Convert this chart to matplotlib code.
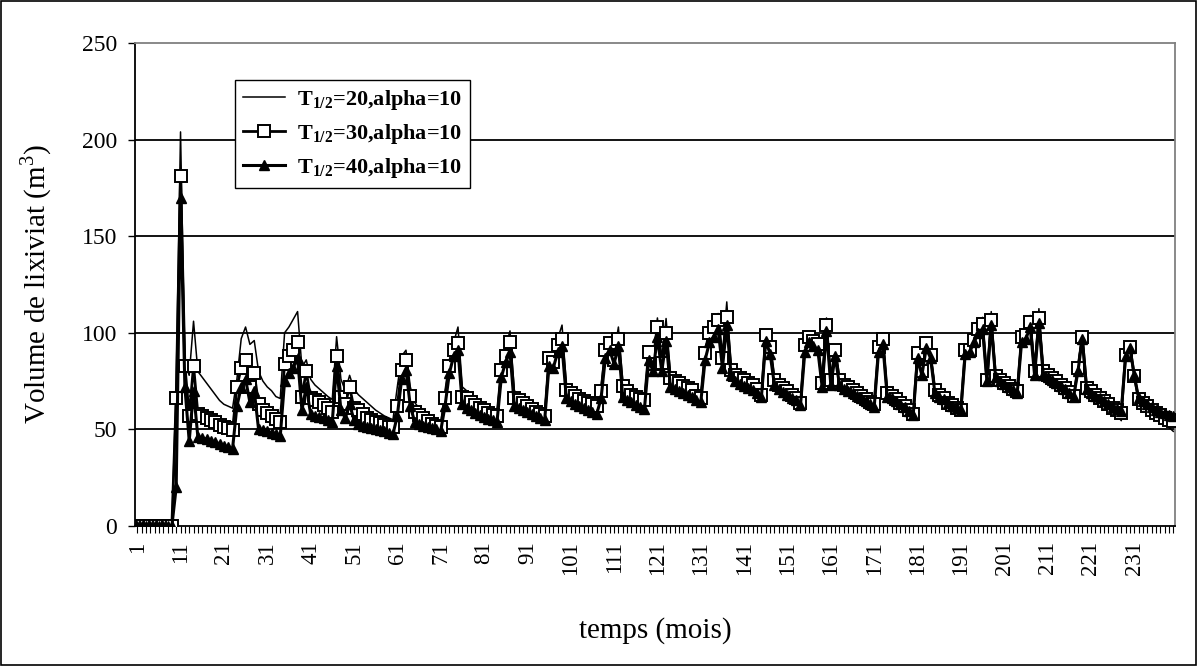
import numpy as np
import matplotlib
matplotlib.use("Agg")
import matplotlib.pyplot as plt
from matplotlib.patches import Rectangle

plt.rcParams['font.family'] = 'Liberation Serif'
plt.rcParams['mathtext.fontset'] = 'custom'
plt.rcParams['mathtext.rm'] = 'Liberation Serif'
plt.rcParams['mathtext.bf'] = 'Liberation Serif:bold'

# monthly leachate volume (m3)
t20 = [0, 0, 0, 0, 0, 0, 0, 0, 0, 74,
       204, 84, 78, 106, 80, 77, 74, 71, 68, 65,
       63, 62, 61, 76, 97, 103, 94, 96, 80, 75,
       72, 70, 67, 66, 100, 103, 107, 111, 82, 86,
       76, 73, 71, 69, 67, 65.5, 98, 76, 70, 78,
       71, 68, 66, 64, 62, 60, 58.5, 57, 56, 55,
       72, 88, 91, 72, 64, 61, 59, 57, 55.5, 54,
       53, 70, 86, 95, 103, 72, 70, 68, 66, 64,
       62.5, 61, 59.5, 58.5, 84, 93, 101, 70, 68, 66,
       64, 62.5, 61, 59.5, 58.5, 90, 88, 97, 104, 73,
       71, 69, 67.5, 66, 64.5, 63.5, 62.5, 72, 94, 97,
       89, 103, 75, 72, 70, 68.5, 67, 66, 93, 87,
       107.7, 87, 107.4, 79, 77, 75.5, 74, 72.5, 71, 68.5,
       67, 92, 102, 106, 110, 89, 116, 83, 80, 78,
       76.5, 75, 73.5, 71.5, 69, 100, 95, 77, 74.5, 72.5,
       70.5, 68.5, 66.5, 64, 96, 100, 98, 96, 76, 107.7,
       77, 94, 77, 74.5, 73, 71.5, 69.5, 67.5, 65.5, 63.5,
       62, 94, 98.8, 70, 68, 66, 64, 61.5, 59.5, 57,
       91, 82, 97, 90, 72, 69, 67, 64.5, 62.5, 61,
       59.5, 93, 93, 99, 105, 108, 77, 111, 79, 77,
       75, 73, 71, 69.5, 101, 102, 109, 82, 112.5, 82,
       80, 78, 76, 74, 72, 69.5, 67, 83, 100, 72,
       70, 68, 66, 64, 62, 60, 57.5, 54.5, 90, 94,
       78, 65, 63, 61, 59, 57, 55, 53, 51, 49]

t30 = [0, 0, 0, 0, 0, 0, 0, 0, 0, 66,
       181, 83, 57, 83, 58, 57, 56, 55, 54, 52.5,
       51.5, 50.5, 49.5, 72, 82, 86, 72, 79, 63, 60,
       58.5, 57, 55.5, 54, 84, 88, 91, 95, 67, 80,
       66, 65, 64, 62.5, 61, 59, 88, 67, 63, 72,
       61, 60, 58, 56, 55, 54, 53.5, 52.5, 51.5, 51,
       62, 81, 86, 67.5, 59, 57.5, 56, 54.5, 53, 52,
       51.3, 66, 82.6, 91, 94.5, 67, 66, 64.3, 62.6, 61,
       60, 58.5, 57.5, 57, 81, 88, 95, 66, 65, 63.5,
       62, 60.5, 59, 58, 57, 87, 85, 93.7, 96.8, 70.6,
       68.9, 67.2, 65.5, 64.5, 63.8, 63, 62, 69.7, 91, 94.5,
       86, 96.8, 72.3, 69.7, 68, 66.7, 65.8, 65, 90.3, 84,
       103, 84.3, 99.7, 76.6, 74.9, 74, 72.3, 71.5, 70.6, 67.2,
       66.5, 89.4, 99.7, 103, 106.5, 86.8, 108.2, 80.9, 78, 76.6,
       75.4, 74, 73, 71, 68, 98.8, 92.8, 75.4, 73.2, 71.5,
       69.7, 68, 66.3, 63.8, 93.7, 98, 96, 94, 74, 104,
       75.4, 91, 75.4, 73, 71.8, 70.6, 68.9, 67.2, 65.5, 64,
       62.9, 92.5, 96.8, 68.9, 67.2, 65.5, 63.8, 62, 60, 57.8,
       89.4, 80, 94.5, 88.5, 70.6, 68, 66.3, 63.8, 62.5, 61.2,
       60.3, 91.1, 91.1, 96.2, 102.2, 104.8, 75.7, 106.5, 77.4, 75.7,
       74, 72.3, 71, 69.7, 98, 99, 105.6, 80, 107.7, 80,
       78.3, 76.6, 74.9, 73.2, 71.5, 69.5, 67.2, 81.7, 98, 71.5,
       69.7, 68, 66.3, 64.6, 62.9, 61.2, 59.9, 58.6, 88.5, 92.8,
       77.4, 65.5, 63.8, 62, 60.3, 58.6, 57.3, 56, 55, 54.4]

t40 = [0, 0, 0, 0, 0, 0, 0, 0, 0, 20,
       170, 72, 44, 70, 46, 45.5, 45, 44, 43.5, 42.5,
       41.5, 41, 40, 62, 72, 76, 64, 70, 50, 49.5,
       49, 48, 47.5, 46.5, 75, 79, 82, 87, 60, 72,
       58, 57, 56.5, 56, 55, 54, 83, 60, 56, 63,
       55, 53, 52, 51, 50.5, 50, 49.5, 49, 48, 47.5,
       57, 76, 81, 62, 54, 53, 52, 51, 50.5, 50,
       49, 62, 79, 88, 91, 63, 61, 60, 58.5, 57.5,
       56.5, 55.5, 55, 54, 77, 85, 90, 62, 61, 60,
       59, 58, 57, 56, 55, 83, 82, 90, 93, 66,
       64.5, 63, 62, 61, 60, 59, 58, 66, 87, 91,
       84, 93, 67, 65, 64, 62.5, 61.5, 60.5, 86, 80,
       98, 80, 96, 72, 71, 70, 69, 68, 67, 65,
       64, 86, 95, 98, 102, 82, 104, 78, 75, 73.5,
       72.5, 71.5, 70.5, 69, 67, 96, 89, 73, 71, 69.5,
       68, 66.5, 65, 62.5, 90, 95, 93, 91, 72, 101,
       73, 88, 73, 71, 70, 69, 67.5, 66, 64.5, 63,
       61.5, 90, 94, 67, 66, 64.5, 63, 61.5, 59.5, 57.5,
       87, 78, 92, 87, 69, 67, 65.5, 63.5, 62, 61,
       60, 89, 90, 95, 100, 102, 75, 104, 77, 75,
       73.5, 72, 70.5, 69, 95, 97, 103, 78, 105, 78,
       77, 75.5, 74, 72.5, 71, 69, 67, 80, 97, 71,
       69, 67.5, 66, 64.5, 63, 61.5, 60.5, 59.5, 88, 92,
       78, 66, 64.5, 63, 61.5, 60, 59, 58.5, 57.5, 57]

labels = [r'$\mathbf{T_{1/2}}$=20,alpha=10',
          r'$\mathbf{T_{1/2}}$=30,alpha=10',
          r'$\mathbf{T_{1/2}}$=40,alpha=10']

months = np.arange(1, len(t30) + 1)

fig = plt.figure(figsize=(11.98, 6.66), dpi=100)
ax = fig.add_axes([0.1127, 0.2102, 0.8685, 0.7252])

# horizontal grid lines
for yv in [50, 100, 150, 200]:
    ax.axhline(yv, color='black', lw=1.3, zorder=1)

ax.plot(months, t20, color='black', lw=1.1, label=labels[0], zorder=2)
ax.plot(months, t30, color='black', lw=2, marker='s', ms=9,
        mfc='white', mec='black', mew=1.4, label=labels[1], zorder=3)
ax.plot(months, t40, color='black', lw=2.2, marker='^', ms=6.5,
        mfc='black', mec='black', label=labels[2], zorder=4)

ax.set_xlim(0.5, len(months) + 0.5)
ax.set_ylim(0, 250)
ax.set_yticks([0, 50, 100, 150, 200, 250])
ax.tick_params(axis='y', labelsize=17, length=5, width=1, pad=8)

ax.set_xticks(months)
ax.set_xticklabels([str(m) if (m - 1) % 10 == 0 else '' for m in months],
                   rotation=90, fontsize=16.5)
ax.tick_params(axis='x', length=5, width=0.8, pad=6)

for s in ['top', 'right']:
    ax.spines[s].set_color('#808080')
    ax.spines[s].set_linewidth(1.3)
for s in ['left', 'bottom']:
    ax.spines[s].set_color('black')
    ax.spines[s].set_linewidth(1.3)

ax.set_xlabel('temps (mois)', fontsize=21, labelpad=30)
ax.set_ylabel('Volume de lixiviat (m$^3$)', fontsize=21, labelpad=20)

leg = ax.legend(loc='upper left', bbox_to_anchor=(0.096, 0.923),
                borderaxespad=0, fancybox=False, framealpha=1,
                edgecolor='black', prop={'weight': 'bold', 'size': 16},
                handlelength=1.9, handletextpad=0.55, labelspacing=0.45,
                borderpad=0.35)
leg.get_frame().set_linewidth(1.0)

# outer chart border
fig.patches.append(Rectangle((0.001, 0.001), 0.997, 0.997, transform=fig.transFigure,
                             fill=False, edgecolor='black', lw=1.2))

fig.savefig('out.png', dpi=100)
